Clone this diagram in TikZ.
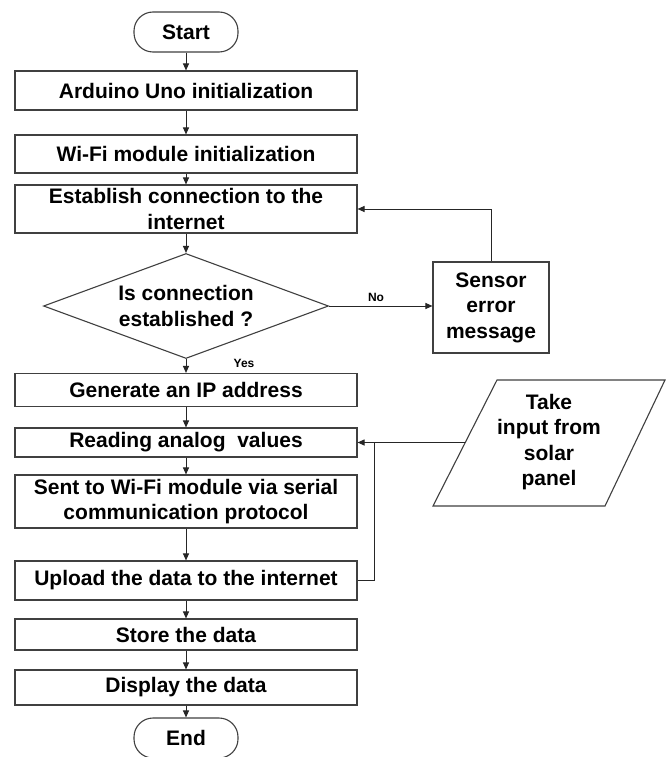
\documentclass[tikz,border=0pt]{standalone}
\usepackage{fontspec}
\setmainfont{Liberation Sans}
\usetikzlibrary{shapes.geometric,arrows.meta,calc}
\begin{document}
\begin{tikzpicture}[x=1pt,y=-1pt,
  every node/.style={font=\fontsize{21}{25.5}\selectfont\bfseries, align=center, inner sep=0pt},
  line/.style={draw=black!75, line width=1.1pt},
  term/.style={line, rounded corners=19pt, minimum width=104pt, minimum height=40pt},
  proc/.style={line, minimum width=342pt},
  arr/.style={draw=black!85, line width=1pt, -{Triangle[length=7pt,width=6pt]}},
  lbl/.style={font=\fontsize{12}{14}\selectfont\bfseries}]
\useasboundingbox (0,0) rectangle (670,757);
\fill[white] (0,0) rectangle (670,757);
% main column
\node[term] (start) at (186,32) {Start};
\node[proc, minimum height=39pt] (b1) at (186,90.5) {Arduino Uno initialization};
\node[proc, minimum height=38pt] (b2) at (186,154) {Wi-Fi module initialization};
\node[proc, minimum height=48pt] (b3) at (186,209) {Establish connection to the\\internet};
\node[line, diamond, aspect=2.714, minimum width=285pt, minimum height=105pt] (d) at (186,306) {Is connection\\established ?};
\node[proc, minimum height=33pt] (b4) at (186,390) {Generate an IP address};
\node[proc, minimum height=29pt] (b5) at (186,442.5) {Reading analog~ values};
\node[proc, minimum height=53pt] (b6) at (186,501.5) {Sent to Wi-Fi module via serial\\communication protocol};
\node[proc, minimum height=39pt] (b7) at (186,580.5) {Upload the data to the internet};
\node[proc, minimum height=31pt] (b8) at (186,634.5) {Store the data};
\node[proc, minimum height=35pt] (b9) at (186,687.5) {Display the data};
\node[term] (end) at (186,738) {End};
% side elements
\node[line, minimum width=116pt, minimum height=91pt] (s) at (491,307.5) {Sensor\\error\\message};
\coordinate (p1) at (497,380);
\coordinate (p2) at (665,380);
\coordinate (p3) at (605,506);
\coordinate (p4) at (433,506);
\draw[line] (p1) -- (p2) -- (p3) -- (p4) -- cycle;
\node (tin) at (549,442) {Take\\input from\\solar\\panel};
\coordinate (pl) at ($(p4)!0.5!(p1)$);
\coordinate (j) at (374,442.5);
% connectors
\draw[arr] (start) -- (b1);
\draw[arr] (b1) -- (b2);
\draw[arr] (b2) -- (b3);
\draw[arr] (b3) -- (d);
\draw[arr] (d) -- (b4);
\draw[arr] (b4) -- (b5);
\draw[arr] (b5) -- (b6);
\draw[arr] (b6) -- (b7);
\draw[arr] (b7) -- (b8);
\draw[arr] (b8) -- (b9);
\draw[arr] (b9) -- (end);
\draw[arr] (d.east) -- (d.east -| s.west);
\draw[arr] (s.north) |- (b3.east);
\draw[arr] (pl |- b5.east) -- (b5.east);
\draw[draw=black!85, line width=1pt] (b7.east) -| (j);
% labels
\node[lbl] (no) at (376,297) {No};
\node[lbl] (yes) at (244,363) {Yes};
\end{tikzpicture}
\end{document}
